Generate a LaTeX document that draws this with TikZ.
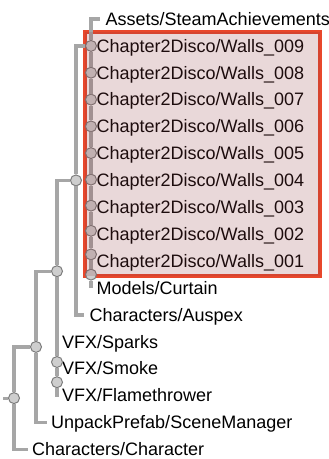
\documentclass[tikz,border=0pt]{standalone}
\usepackage{fontspec}
\setmainfont{Liberation Sans}
\usetikzlibrary{positioning}

\definecolor{linkgray}{HTML}{A6A6A6}
\definecolor{dotfill}{HTML}{CECECE}
\definecolor{dotedge}{HTML}{7C7C7C}
\definecolor{boxred}{HTML}{E8472B}
\definecolor{boxtint}{RGB}{145,60,65}

\tikzset{
  link/.style={linkgray, line width=3.2pt},
  merge/.style={circle, draw=dotedge, fill=dotfill, line width=1pt, minimum size=11pt, inner sep=0pt},
  leaf/.style={anchor=base west, inner sep=0pt, font=\fontsize{18}{21}\selectfont},
}

\begin{document}
\begin{tikzpicture}[x=1pt, y=-1pt]
  \useasboundingbox (0,0) rectangle (329,459);
  \def\gap{26.9}
  % red frame round the Walls rows
  \draw[boxred, line width=3.4pt] (85,32) rectangle (320,276);

  % leaf ends
  \coordinate (assets) at (100,19);
  \coordinate (curtain) at (91,288);
  \coordinate (auspex) at (84,314.9);
  \coordinate (sparks) at (57,341.8);
  \coordinate (smoke) at (57,368.7);
  \coordinate (flame) at (57,396.5);
  \coordinate (unpack) at (47,422.5);
  \coordinate (character) at (28,449.4);
  \coordinate (stub) at (3,398.1);

  % labels
  \node[leaf] (tassets) at (105.5,19+6.2) {Assets/SteamAchievements};
  \foreach \i/\n in {1/009,2/008,3/007,4/006,5/005,6/004,7/003,8/002,9/001}
    \node[leaf] (t\n) at (96.5,19+\gap*\i+6.2) {Chapter2Disco/Walls\_\n};
  \node[leaf] (tcurtain) at (96.5,288+6.2) {Models/Curtain};
  \node[leaf] (tauspex) at (89.5,314.9+6.2) {Characters/Auspex};
  \node[leaf] (tsparks) at (62,341.8+6.2) {VFX/Sparks};
  \node[leaf] (tsmoke) at (62,368.7+6.2) {VFX/Smoke};
  \node[leaf] (tflame) at (62,395.6+6.2) {VFX/Flamethrower};
  \node[leaf] (tunpack) at (51,422.5+6.2) {UnpackPrefab/SceneManager};
  \node[leaf] (tcharacter) at (32,449.4+6.2) {Characters/Character};

  % merge points
  \node[merge] (s1) at (91,45.9) {};
  \node[merge] (s2) at (91,72.7) {};
  \node[merge] (s3) at (91,99.6) {};
  \node[merge] (s4) at (91,126.4) {};
  \node[merge] (s5) at (91,153.1) {};
  \node[merge] (s6) at (91,179.6) {};
  \node[merge] (s7) at (91,205.6) {};
  \node[merge] (s8) at (91,230.8) {};
  \node[merge] (s9) at (91,254.4) {};
  \node[merge] (s10) at (91,274.6) {};
  \node[merge] (c) at (76,180.4) {};
  \node[merge] (v1) at (57,362) {};
  \node[merge] (v2) at (57,382.2) {};
  \node[merge] (d) at (57,271.2) {};
  \node[merge] (e) at (36,346.9) {};
  \node[merge] (root) at (14,398.1) {};

  % links
  \draw[link] (s1) |- (assets);
  \foreach \a/\b in {s1/s2,s2/s3,s3/s4,s4/s5,s5/s6,s6/s7,s7/s8,s8/s9,s9/s10}
    \draw[link] (\a) -- (\b);
  \draw[link] (s10) -- (curtain);
  \draw[link] (c) |- (s1);
  \draw[link] (c) |- (auspex);
  \draw[link] (d) |- (c);
  \draw[link] (d) -- (v1);
  \draw[link] (v1) -- (sparks);
  \draw[link] (v1) -- (v2);
  \draw[link] (v2) -- (smoke);
  \draw[link] (v2) -- (flame);
  \draw[link] (e) |- (d);
  \draw[link] (e) |- (unpack);
  \draw[link] (root) |- (e);
  \draw[link] (root) |- (character);
  \draw[link] (root) -- (stub);

  % tint over the framed rows
  \fill[boxtint, fill opacity=0.2] (85,32) rectangle (320,276);
\end{tikzpicture}
\end{document}
